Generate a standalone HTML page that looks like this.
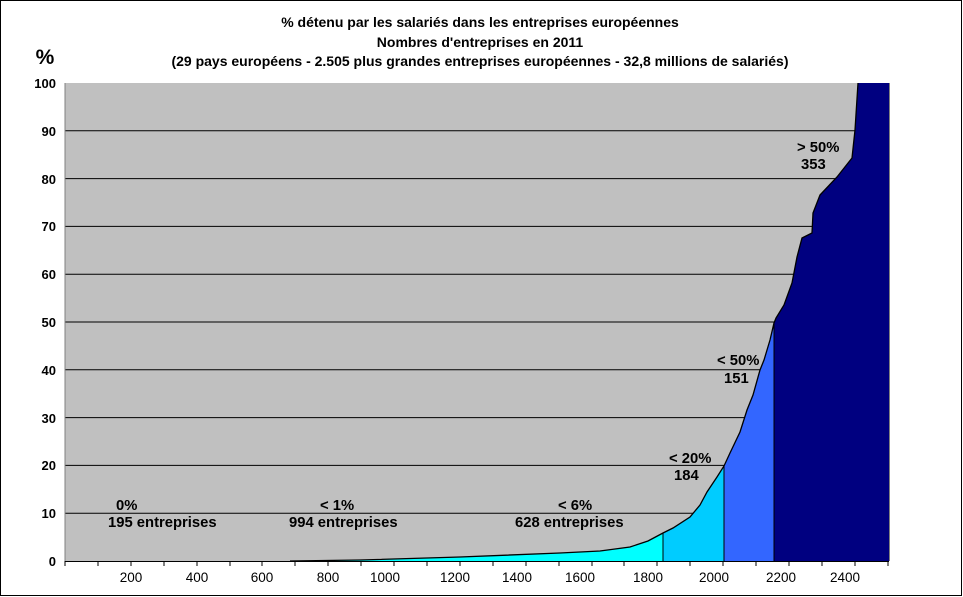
<!DOCTYPE html>
<html><head><meta charset="utf-8"><style>
html,body{margin:0;padding:0;background:#fff;}
svg{display:block;font-family:"Liberation Sans",Arial,sans-serif;}
</style></head><body>
<svg width="963" height="597" viewBox="0 0 963 597" xmlns="http://www.w3.org/2000/svg">
<rect x="0.5" y="0.5" width="961" height="595" fill="#fff" stroke="#000" stroke-width="1"/>
<g font-weight="bold" font-size="14" text-anchor="middle" fill="#000">
<text x="480" y="27">% détenu par les salariés dans les entreprises européennes</text>
<text x="480" y="47">Nombres d'entreprises en 2011</text>
<text x="480" y="66">(29 pays européens - 2.505 plus grandes entreprises européennes - 32,8 millions de salariés)</text>
</g>
<text x="45" y="64" font-size="21" font-weight="bold" text-anchor="middle">%</text>
<rect x="65" y="83" width="824" height="478" fill="#c0c0c0"/>
<g stroke="#000" stroke-width="1">
<line x1="65" y1="130.8" x2="889" y2="130.8"/><line x1="65" y1="178.6" x2="889" y2="178.6"/>
<line x1="65" y1="226.4" x2="889" y2="226.4"/><line x1="65" y1="274.2" x2="889" y2="274.2"/>
<line x1="65" y1="322" x2="889" y2="322"/><line x1="65" y1="369.8" x2="889" y2="369.8"/>
<line x1="65" y1="417.6" x2="889" y2="417.6"/><line x1="65" y1="465.4" x2="889" y2="465.4"/>
<line x1="65" y1="513.2" x2="889" y2="513.2"/>
</g>
<path d="M65,561 L290,561 L360,560 L460,557 L560,553 L600,551 L630,547 L648,541 L663,533 L663,561 Z" fill="#00ffff"/>
<path d="M663,533 L673,528 L690,517 L700,505 L707,492 L717,477 L724,466 L724,561 L663,561 Z" fill="#00ccff"/>
<path d="M724,466 L730,453 L740,432 L747,410 L753,395 L760,370 L764,360 L770,340 L774,323 L774,561 L724,561 Z" fill="#3366ff"/>
<path d="M774,323 L776,318 L784,305 L792,283 L797,257 L802,238 L812,233 L813,213 L820,195 L837,177 L852,158 L855,130 L858,83 L889,83 L889,561 L774,561 Z" fill="#000080"/>
<path d="M290,561 L360,560 L460,557 L560,553 L600,551 L630,547 L648,541 L663,533 L673,528 L690,517 L700,505 L707,492 L717,477 L724,466 L730,453 L740,432 L747,410 L753,395 L760,370 L764,360 L770,340 L774,323 L776,318 L784,305 L792,283 L797,257 L802,238 L812,233 L813,213 L820,195 L837,177 L852,158 L855,130 L858,83" fill="none" stroke="#000" stroke-width="1.3"/>
<g stroke="#000" stroke-width="1"><line x1="663" y1="533" x2="663" y2="561"/><line x1="724" y1="466" x2="724" y2="561"/><line x1="774" y1="323" x2="774" y2="561"/></g>
<line x1="889.5" y1="83" x2="889.5" y2="561" stroke="#808080"/>
<line x1="65" y1="83" x2="65" y2="561" stroke="#808080"/>
<line x1="65" y1="561.5" x2="889" y2="561.5" stroke="#000"/>
<g stroke="#000">
<line x1="65" y1="561" x2="65" y2="566"/><line x1="98" y1="561" x2="98" y2="566"/><line x1="131" y1="561" x2="131" y2="566"/><line x1="164" y1="561" x2="164" y2="566"/><line x1="197" y1="561" x2="197" y2="566"/><line x1="230" y1="561" x2="230" y2="566"/><line x1="262" y1="561" x2="262" y2="566"/><line x1="295" y1="561" x2="295" y2="566"/><line x1="328" y1="561" x2="328" y2="566"/><line x1="361" y1="561" x2="361" y2="566"/><line x1="394" y1="561" x2="394" y2="566"/><line x1="427" y1="561" x2="427" y2="566"/><line x1="460" y1="561" x2="460" y2="566"/><line x1="493" y1="561" x2="493" y2="566"/><line x1="526" y1="561" x2="526" y2="566"/><line x1="559" y1="561" x2="559" y2="566"/><line x1="592" y1="561" x2="592" y2="566"/><line x1="624" y1="561" x2="624" y2="566"/><line x1="657" y1="561" x2="657" y2="566"/><line x1="690" y1="561" x2="690" y2="566"/><line x1="723" y1="561" x2="723" y2="566"/><line x1="756" y1="561" x2="756" y2="566"/><line x1="789" y1="561" x2="789" y2="566"/><line x1="822" y1="561" x2="822" y2="566"/><line x1="855" y1="561" x2="855" y2="566"/><line x1="888" y1="561" x2="888" y2="566"/>
</g>
<g font-size="13.5" text-anchor="middle">
<text x="131" y="582">200</text><text x="197" y="582">400</text><text x="262" y="582">600</text><text x="328" y="582">800</text><text x="385" y="582">1000</text><text x="455" y="582">1200</text><text x="517" y="582">1400</text><text x="580" y="582">1600</text><text x="648" y="582">1800</text><text x="714" y="582">2000</text><text x="781" y="582">2200</text><text x="845" y="582">2400</text>
</g>
<g font-size="13" font-weight="bold" text-anchor="end">
<text x="56" y="566">0</text><text x="56" y="518">10</text><text x="56" y="470">20</text><text x="56" y="423">30</text><text x="56" y="375">40</text><text x="56" y="327">50</text><text x="56" y="279">60</text><text x="56" y="231">70</text><text x="56" y="184">80</text><text x="56" y="136">90</text><text x="56" y="88">100</text>
</g>
<g font-size="14.8" font-weight="bold">
<text x="116" y="510">0%</text><text x="108" y="527">195 entreprises</text>
<text x="320" y="510">&lt; 1%</text><text x="289" y="527">994 entreprises</text>
<text x="558" y="510">&lt; 6%</text><text x="515" y="527">628 entreprises</text>
<text x="669" y="463">&lt; 20%</text><text x="674" y="480">184</text>
<text x="717" y="365">&lt; 50%</text><text x="724" y="383">151</text>
<text x="797" y="152">&gt; 50%</text><text x="801" y="169">353</text>
</g>
</svg>
</body></html>
